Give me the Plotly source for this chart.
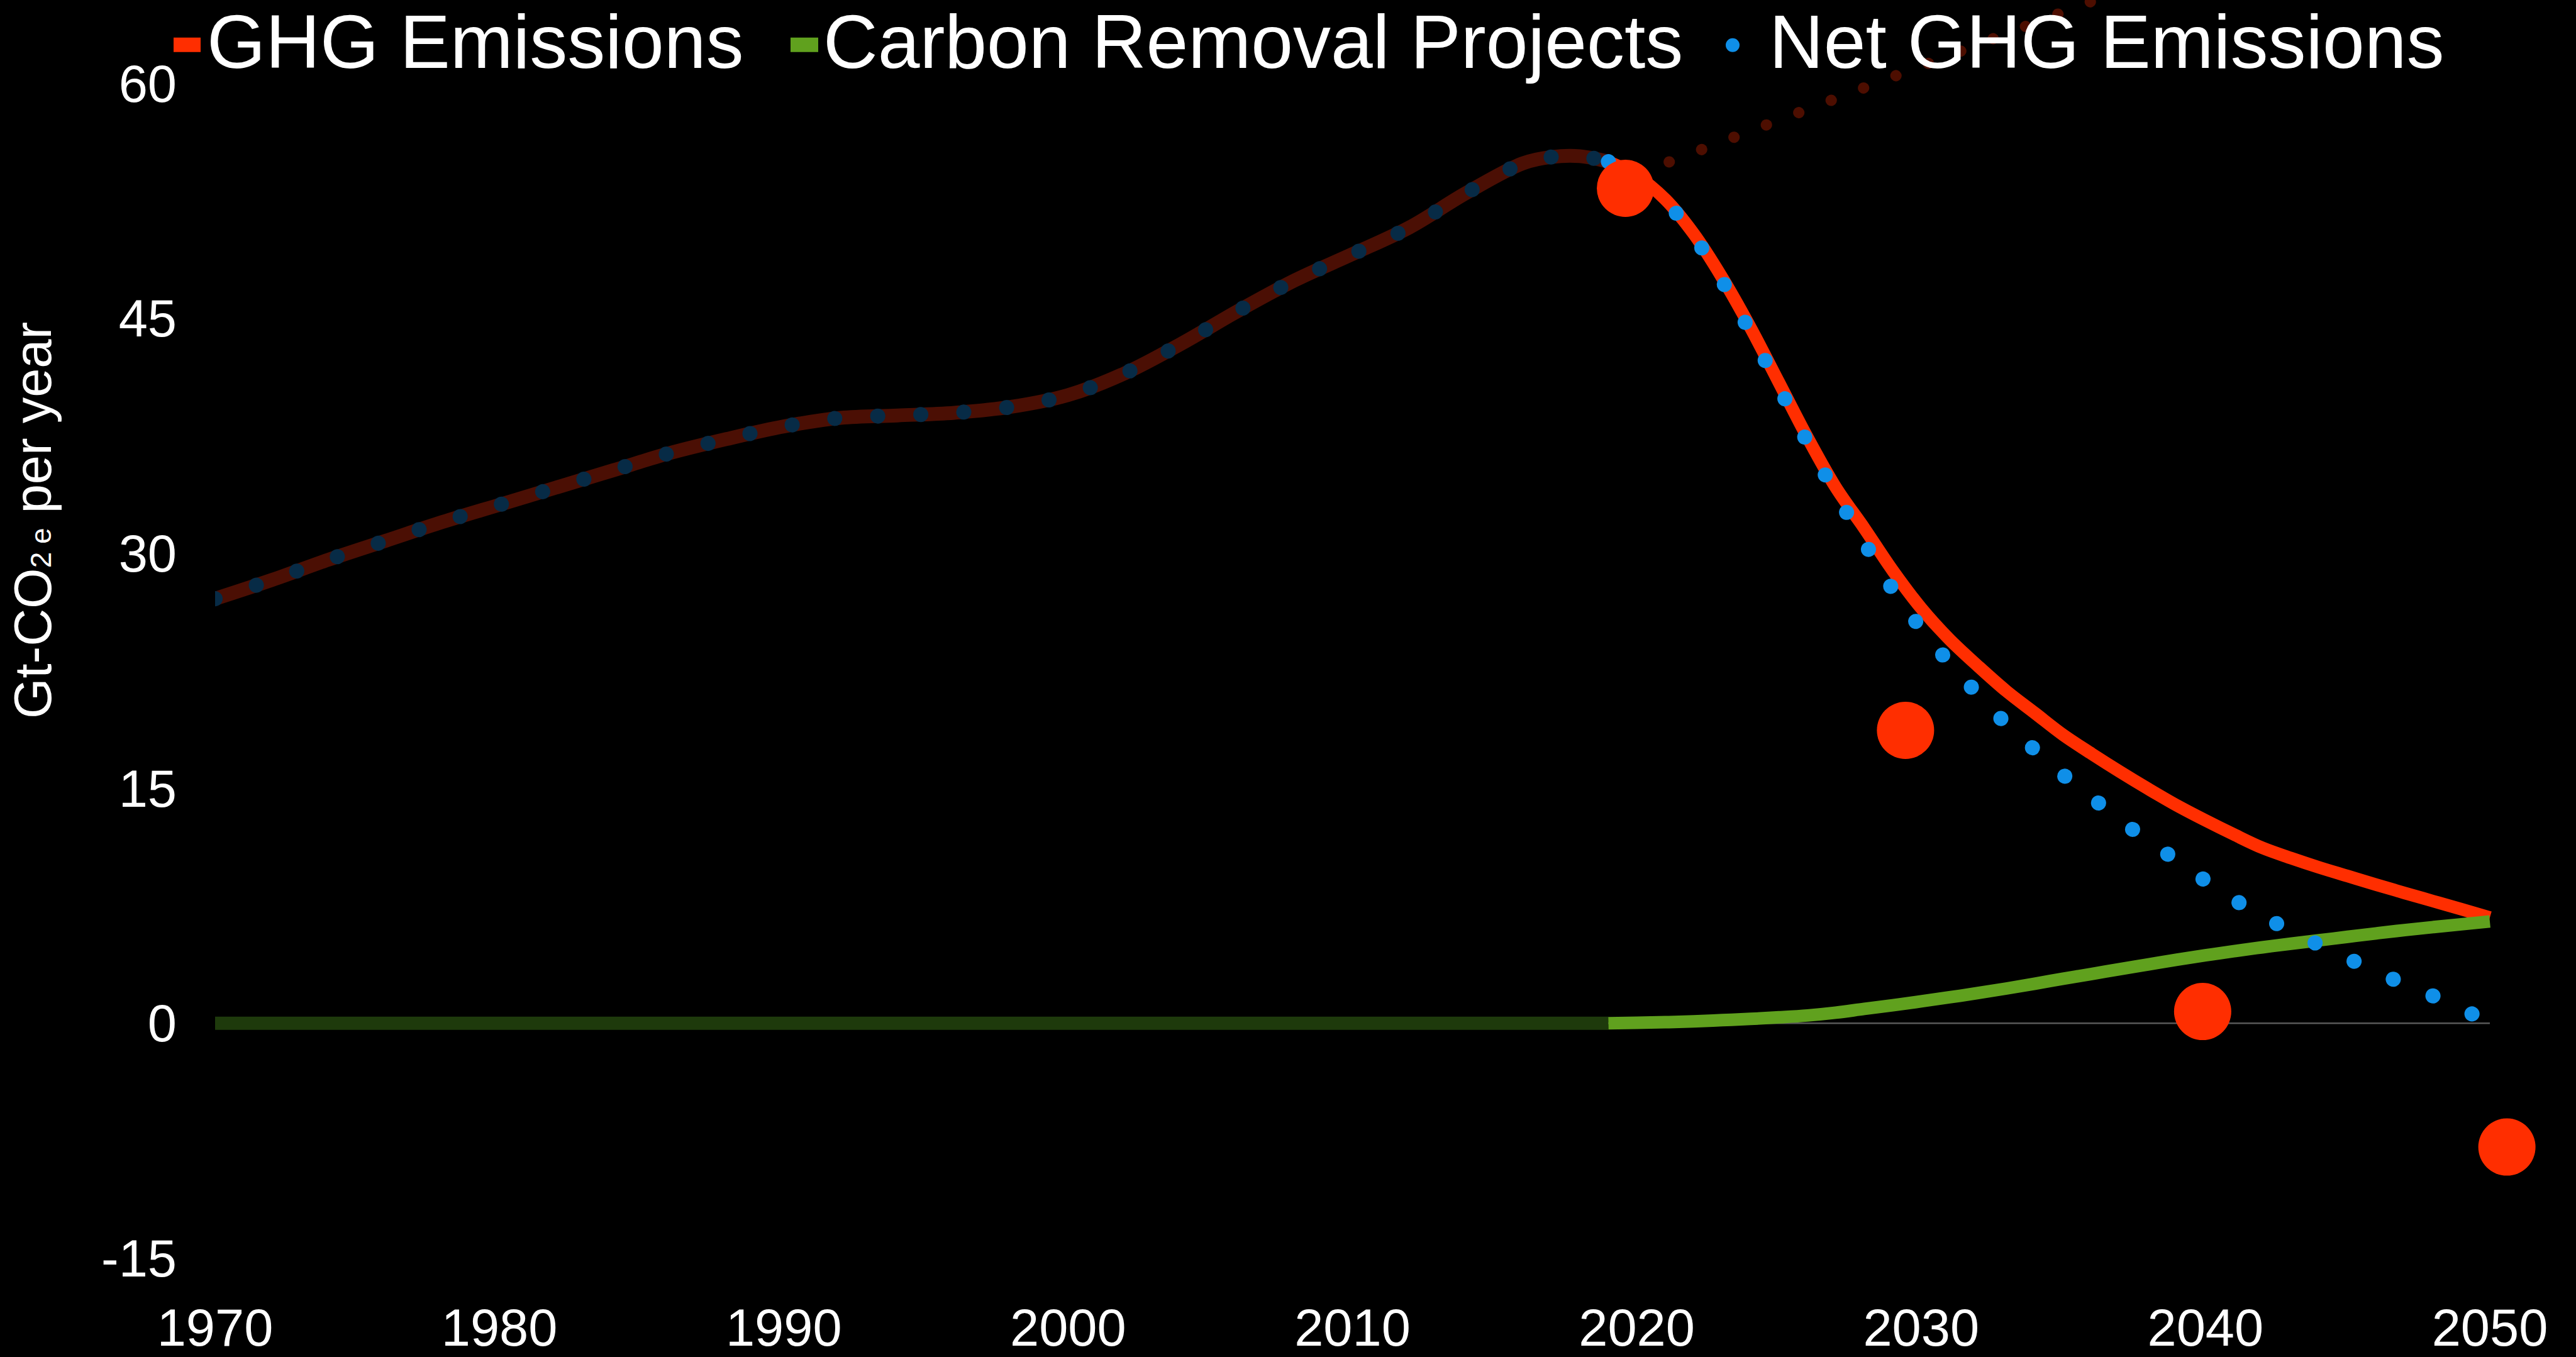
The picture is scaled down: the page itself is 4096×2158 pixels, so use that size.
import plotly.graph_objects as go

# ---- data (Gt-CO2e per year) ----
hist_years = [1970, 1972, 1974, 1976, 1978, 1980, 1982, 1984, 1986, 1988, 1990, 1992,
              1994, 1996, 1998, 2000, 2002, 2004, 2006, 2008, 2010, 2012, 2014, 2016,
              2017, 2018, 2019]
hist_ghg = [27.1, 28.3, 29.6, 30.8, 32.0, 33.1, 34.2, 35.3, 36.4, 37.3, 38.1, 38.65,
            38.8, 38.97, 39.35, 40.1, 41.5, 43.4, 45.5, 47.45, 49.1, 50.8, 53.0, 54.9,
            55.3, 55.35, 55.0]
hist_net = [27.1, 28.3, 29.6, 30.8, 32.0, 33.1, 34.2, 35.3, 36.4, 37.3, 38.1, 38.65,
            38.8, 38.97, 39.35, 40.1, 41.5, 43.4, 45.5, 47.45, 49.1, 50.8, 53.0, 54.9,
            55.3, 55.35, 55.0]
hist_removal_years = [1970, 2019]
hist_removal = [0.0, 0.0]

proj_years = [2019, 2020, 2021, 2022, 2023, 2024, 2025, 2026, 2027, 2028, 2029, 2030,
              2031, 2032, 2033, 2034, 2035, 2036, 2037, 2038, 2039, 2040, 2041, 2042,
              2043, 2044, 2045, 2046, 2047, 2048, 2049, 2050]
proj_ghg = [55.0, 54.1, 52.6, 50.4, 47.6, 44.4, 40.9, 37.4, 34.2, 31.6, 28.9, 26.5,
            24.5, 22.8, 21.2, 19.8, 18.4, 17.2, 16.05, 14.95, 13.9, 12.95, 12.05, 11.2,
            10.55, 9.95, 9.4, 8.85, 8.32, 7.8, 7.28, 6.75]
proj_removal = [0.0, 0.03, 0.07, 0.12, 0.2, 0.28, 0.38, 0.5, 0.68, 0.92, 1.15, 1.4,
                1.66, 1.93, 2.22, 2.53, 2.85, 3.15, 3.46, 3.76, 4.06, 4.34, 4.6, 4.85,
                5.08, 5.3, 5.52, 5.74, 5.95, 6.14, 6.32, 6.5]
proj_net = [55.0, 54.05, 52.5, 50.25, 47.4, 44.1, 40.6, 37.1, 33.8, 30.7, 27.7, 25.2,
            23.0, 21.0, 19.1, 17.45, 15.85, 14.4, 13.0, 11.6, 10.4, 9.1, 7.9, 6.85,
            5.9, 5.0, 4.15, 3.3, 2.5, 1.75, 0.9, 0.1]

# business-as-usual path
bau_years = [2020, 2025, 2030, 2035, 2040, 2045, 2050]
bau_ghg = [54.2, 57.65, 61.1, 64.55, 68.0, 71.45, 74.9]

# decade targets
target_years = [2019.6, 2029.45, 2039.9, 2050.6]
target_values = [53.3, 18.7, 0.75, -7.9]

x_ticks = [1970, 1980, 1990, 2000, 2010, 2020, 2030, 2040, 2050]
y_ticks = [-15, 0, 15, 30, 45, 60]

# ---- styling ----
RED = "#FF2E00"
GREEN = "#60A11E"
BLUE = "#0F8FE8"
DARK_RED = "#4B0F04"
DARK_BLUE = "#072B46"
DARK_GREEN = "#1E3A0C"
FONT = "Liberation Sans, Arial, sans-serif"

W_PX, H_PX = 4096, 2158
L, R, T, B = 342, 2, 0, 150
PLOT_W = W_PX - L - R
PLOT_H = H_PX - T - B
PX_PER_YEAR = (3959 - 342) / 80.0
PX_PER_UNIT = 25.0
x_max = 1970 + PLOT_W / PX_PER_YEAR
y_top = -15 + PLOT_H / PX_PER_UNIT


def paper_x(px):
    return (px - L) / PLOT_W


def paper_y(py):
    return (PLOT_H + T - py) / PLOT_H


DOTS = "0.1px,68.4px"
BAU_DOTS = "0.1px,55px"

fig = go.Figure()

fig.add_trace(go.Scatter(x=hist_removal_years, y=hist_removal, mode="lines",
                         line=dict(color=DARK_GREEN, width=21), hoverinfo="skip"))
fig.add_trace(go.Scatter(x=hist_years, y=hist_ghg, mode="lines",
                         line=dict(color=DARK_RED, width=22, shape="spline"), hoverinfo="skip"))
fig.add_trace(go.Scatter(x=hist_years, y=hist_net, mode="lines",
                         line=dict(color=DARK_BLUE, width=24, shape="spline", dash=DOTS),
                         hoverinfo="skip"))
fig.add_trace(go.Scatter(x=bau_years, y=bau_ghg, mode="lines",
                         line=dict(color="rgba(255,46,0,0.3)", width=18, dash=BAU_DOTS),
                         hoverinfo="skip"))
fig.add_trace(go.Scatter(x=proj_years, y=proj_ghg, mode="lines", name="GHG Emissions",
                         line=dict(color=RED, width=20, shape="spline")))
fig.add_trace(go.Scatter(x=proj_years, y=proj_removal, mode="lines", name="Carbon Removal Projects",
                         line=dict(color=GREEN, width=20, shape="spline")))
fig.add_trace(go.Scatter(x=proj_years, y=proj_net, mode="lines", name="Net GHG Emissions",
                         line=dict(color=BLUE, width=24, shape="spline", dash=DOTS)))
fig.add_trace(go.Scatter(x=target_years, y=target_values, mode="markers",
                         marker=dict(color=RED, size=91, line=dict(width=0)),
                         cliponaxis=False, hoverinfo="skip"))

# ---- zero line (1970-2050 only) and legend row ----
shapes = [
    dict(type="line", xref="x", yref="y", x0=1970, x1=2050, y0=0, y1=0,
         line=dict(color="#595959", width=2.5), layer="below"),
    dict(type="rect", xref="paper", yref="paper",
         x0=paper_x(276), x1=paper_x(319), y0=paper_y(83), y1=paper_y(60),
         fillcolor=RED, line=dict(width=0)),
    dict(type="rect", xref="paper", yref="paper",
         x0=paper_x(1257), x1=paper_x(1301), y0=paper_y(83), y1=paper_y(60),
         fillcolor=GREEN, line=dict(width=0)),
    dict(type="circle", xref="paper", yref="paper",
         x0=paper_x(2744), x1=paper_x(2766), y0=paper_y(83), y1=paper_y(61),
         fillcolor=BLUE, line=dict(width=0)),
]

annotations = []
for label, left in [("GHG Emissions", 328), ("Carbon Removal Projects", 1308),
                    ("Net GHG Emissions", 2812)]:
    annotations.append(dict(text=label, xref="paper", yref="paper",
                            x=paper_x(left), y=paper_y(66), xanchor="left", yanchor="middle",
                            showarrow=False, borderpad=0,
                            font=dict(family=FONT, size=120, color="white")))

annotations.append(dict(
    text="Gt-CO<span style='font-size:46px'>2 e</span> per year",
    xref="paper", yref="paper", x=paper_x(52), y=paper_y(831),
    xanchor="center", yanchor="middle", textangle=-90, showarrow=False,
    font=dict(family=FONT, size=83, color="white")))

fig.update_layout(
    width=W_PX, height=H_PX,
    margin=dict(l=L, r=R, t=T, b=B, pad=0),
    paper_bgcolor="black", plot_bgcolor="black",
    showlegend=False,
    font=dict(family=FONT, color="white"),
    shapes=shapes, annotations=annotations,
)
fig.update_xaxes(range=[1970, x_max], tickvals=x_ticks, ticktext=[str(v) for v in x_ticks],
                 showgrid=False, zeroline=False, showline=False, ticks="",
                 ticklabelstandoff=55, tickfont=dict(family=FONT, size=83, color="white"))
fig.update_yaxes(range=[-15, y_top], tickvals=y_ticks, ticktext=[str(v) for v in y_ticks],
                 showgrid=False, zeroline=False, showline=False, ticks="",
                 ticklabelstandoff=60, tickfont=dict(family=FONT, size=83, color="white"))

round_caps = """
(function(){
  function roundDots(){
    document.querySelectorAll('path.js-line').forEach(function(p){
      var d = p.style.strokeDasharray;
      if (d && d !== 'none') { p.style.strokeLinecap = 'round'; }
    });
  }
  roundDots();
  setTimeout(roundDots, 0);
  var gd = document.getElementById('{plot_id}');
  if (gd && gd.on) { gd.on('plotly_afterplot', roundDots); }
})();
"""

fig.write_html("out.html", post_script=round_caps,
               config={"displayModeBar": False})
